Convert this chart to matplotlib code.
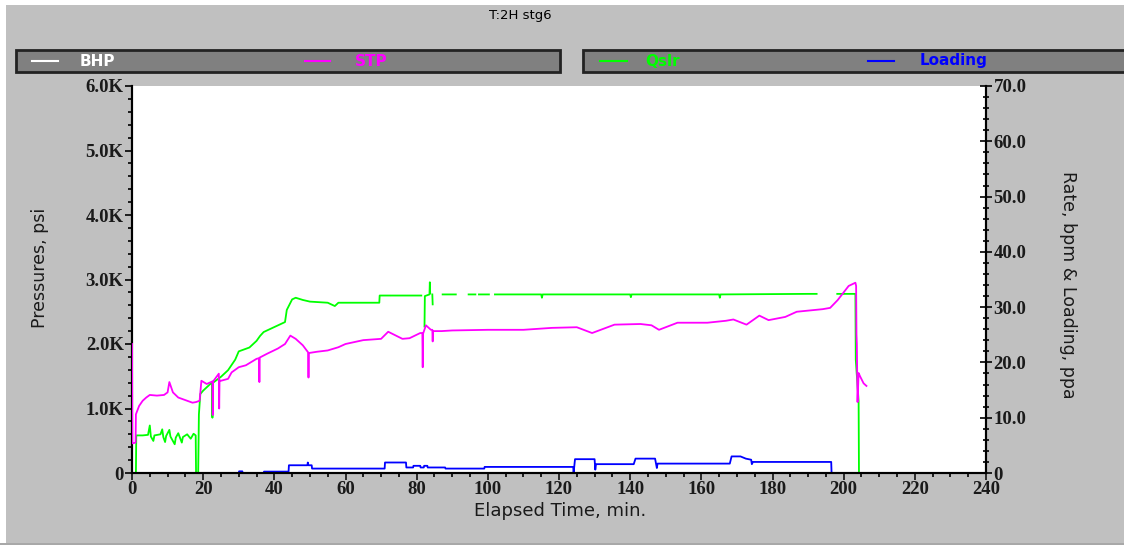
import matplotlib
matplotlib.use('Agg')
import matplotlib.pyplot as plt
from matplotlib.patches import Rectangle
from matplotlib.lines import Line2D
from matplotlib.ticker import MultipleLocator, FuncFormatter
import numpy as np

nan = np.nan

# STP, psi (axe de gauche)
stp_t = [0, 0.1, 1.0, 1.1, 2, 3, 4, 5, 7, 9, 10, 10.5, 11.5, 13, 15, 17, 18, 19, 19.5, 21,
         22.6, 22.7, 22.8, 24.4, 24.5, 24.6, 25, 27, 28, 30, 32, 35, 35.7, 35.8, 35.9, 38, 41, 43,
         44.5, 46, 48, 49.5, 49.6, 49.7, 52, 55, 58, 60, 65, 70, 72, 76, 78, 81, 81.6, 81.7, 81.8,
         82.6, 84, 84.4, 84.5, 84.6, 87, 90, 100, 110, 118, 125, 129.3, 135.6, 142.9, 146, 148.1,
         153.3, 161.7, 166.9, 169, 172.7, 176.3, 178.9, 183.6, 186.8, 194.1, 196.2, 198.3, 201.4,
         203.3, 203.5, 203.6, 203.7, 203.9, 204.2, 204.6, 205.6, 206.4]
stp_psi = [2000, 460, 470, 910, 1040, 1120, 1170, 1210, 1200, 1210, 1250, 1410, 1250, 1170, 1130,
           1090, 1100, 1120, 1430, 1380, 1420, 900, 1420, 1540, 1000, 1440, 1430, 1460, 1560, 1640,
           1670, 1770, 1780, 1410, 1790, 1850, 1930, 2000, 2130, 2080, 1980, 1870, 1480, 1860, 1880,
           1900, 1950, 2000, 2060, 2080, 2190, 2080, 2090, 2170, 2170, 1640, 2160, 2290, 2220, 2220,
           2040, 2200, 2200, 2210, 2220, 2220, 2250, 2260, 2170, 2300, 2310, 2290, 2220, 2330, 2330,
           2360, 2380, 2300, 2440, 2370, 2420, 2500, 2540, 2560, 2680, 2900, 2950, 2900, 2150, 2000,
           1100, 1550, 1500, 1390, 1350]

# Qslr, bpm (axe de droite)
qslr_t = [0, 1.1, 1.2, 3, 4.5, 5, 5.3, 6, 6.3, 8, 8.5, 8.8, 9.3, 9.6, 10.5, 10.8, 12, 12.3, 13, 14,
          14.3, 15.5, 16.5, 17.3, 17.9, 18.0, 18.6, 18.8, 19.2, 20, 21, 22, 22.5, 22.6, 22.7, 25, 27,
          29, 30, 33, 35, 36, 37, 40, 43, 43.5, 45, 46, 48, 50, 55, 57, 58, 65, 69.5, 69.6, 72.5, 72.6,
          73, 81.3, 81.4, 82.2, 82.3, 83.6, 83.7, 83.8, 84.0, 84.4, 84.5, 84.6, 87.3, 91, 91.1, 94.6,
          96.5, 96.6, 97.5, 100.3, 100.4, 102, 115, 115.2, 115.4, 140, 140.2, 140.4, 165, 165.2, 165.4,
          190, 192.4, 192.5, 198.2, 203.3, 203.4, 204.2, 204.3]
qslr_bpm = [0, 0, 6.8, 6.8, 6.9, 8.6, 6.6, 5.8, 6.8, 7.0, 7.9, 6.5, 5.6, 6.7, 7.8, 6.6, 5.2, 6.4, 7.2,
            5.5, 6.5, 7.0, 6.2, 7.1, 6.8, 0, 0, 10.6, 14.3, 14.9, 15.5, 16.1, 16.3, 10.0, 16.3, 17.4,
            18.6, 20.5, 22.0, 22.7, 23.9, 24.8, 25.5, 26.4, 27.3, 29.5, 31.4, 31.7, 31.3, 31.0, 30.8,
            30.2, 30.8, 30.8, 30.8, 32.1, 32.1, nan, 32.1, 32.1, nan, 26.5, 32.0, 32.3, 34.5, 32.5, nan,
            32.3, 30.5, nan, 32.3, 32.3, nan, 32.3, 32.3, nan, 32.3, 32.3, nan, 32.3, 32.3, 31.7, 32.3,
            32.3, 31.8, 32.3, 32.3, 31.7, 32.3, 32.4, 32.4, nan, 32.4, 32.4, 20.5, 13.0, 0]

# Loading, ppa (axe de droite)
load_t = [0, 30, 30.1, 31, 31.1, 37, 37.1, 44, 44.1, 49.3, 49.4, 49.6, 50.5, 50.6, 71, 71.1, 77,
          77.1, 79, 79.1, 81, 81.1, 82, 82.1, 83, 83.1, 88, 88.1, 99, 99.1, 124, 124.1, 124.5, 130,
          130.2, 130.4, 141, 141.5, 147, 147.5, 147.7, 168, 168.5, 171, 172.5, 174, 174.2, 174.5,
          196.5, 196.6, 207]
load_ppa = [0, 0, 0.3, 0.3, 0, 0, 0.25, 0.25, 1.4, 1.4, 1.9, 1.4, 1.4, 0.8, 0.8, 1.9, 1.9, 1.0, 1.0,
            1.3, 1.3, 1.0, 1.0, 1.3, 1.3, 1.0, 1.0, 0.8, 0.8, 1.1, 1.1, 0, 2.5, 2.5, 0.6, 1.6, 1.6,
            2.6, 2.6, 0.9, 1.7, 1.7, 3.0, 3.0, 2.6, 2.4, 1.6, 2.0, 2.0, 0, 0]

# Légende
noms_legende = ['BHP', 'STP', 'Qslr', 'Loading']
couleurs = ['white', '#ff00ff', '#00ff00', '#0000ff']

fond = '#c0c0c0'
fig = plt.figure(figsize=(11.24, 5.45), dpi=100, facecolor=fond)
W, H = 1124.0, 545.0

# Bandes blanches du bord de la capture
fig.patches.append(Rectangle((0, 1 - 5 / H), 1, 5 / H, transform=fig.transFigure,
                             facecolor='white', edgecolor='none', zorder=0))
fig.patches.append(Rectangle((0, 0), 6 / W, 1, transform=fig.transFigure,
                             facecolor='white', edgecolor='none', zorder=0))
fig.patches.append(Rectangle((0, 0), 1, 2 / H, transform=fig.transFigure,
                             facecolor='#a8a8a8', edgecolor='none', zorder=0))

ax = fig.add_axes([132 / W, 1 - 473 / H, (986 - 132) / W, (473 - 86) / H])
ax2 = ax.twinx()

ax.plot(stp_t, stp_psi, color=couleurs[1], lw=1.3, zorder=3)
ax2.plot(qslr_t, qslr_bpm, color=couleurs[2], lw=1.3, zorder=2)
ax2.plot(load_t, load_ppa, color=couleurs[3], lw=1.3, zorder=2)
ax.set_zorder(ax2.get_zorder() + 1)
ax.patch.set_visible(False)
ax2.patch.set_visible(True)
ax2.patch.set_facecolor('white')

ax.set_xlim(0, 240)
ax.set_ylim(0, 6000)
ax2.set_ylim(0, 70)

tick_font = dict(family='Liberation Serif', weight='bold', size=13.5)

def fmt_k(v, pos):
    if v == 0:
        return '0'
    return '%.1fK' % (v / 1000.0)

def fmt_r(v, pos):
    if v == 0:
        return '0'
    return '%.1f' % v

ax.xaxis.set_major_locator(MultipleLocator(20))
ax.xaxis.set_minor_locator(MultipleLocator(5))
ax.yaxis.set_major_locator(MultipleLocator(1000))
ax.yaxis.set_minor_locator(MultipleLocator(200))
ax.yaxis.set_major_formatter(FuncFormatter(fmt_k))
ax2.yaxis.set_major_locator(MultipleLocator(10))
ax2.yaxis.set_minor_locator(MultipleLocator(2))
ax2.yaxis.set_major_formatter(FuncFormatter(fmt_r))

ax.tick_params(axis='x', which='major', direction='out', length=5, width=1.2, pad=1, colors='#111111')
ax.tick_params(axis='x', which='minor', direction='out', length=3, width=1.2)
ax.tick_params(axis='y', which='major', direction='out', length=5, width=1.2, pad=1)
ax.tick_params(axis='y', which='minor', direction='out', length=3, width=1.2)
ax2.tick_params(axis='y', which='major', direction='inout', length=9, width=1.2, pad=1)
ax2.tick_params(axis='y', which='minor', direction='inout', length=5, width=1.2)

for lab in ax.get_xticklabels() + ax.get_yticklabels() + ax2.get_yticklabels():
    lab.set_fontproperties(tick_font)
    lab.set_color('#1a1a1a')

for a in (ax, ax2):
    a.spines['top'].set_visible(False)
    for s in ('left', 'right', 'bottom'):
        a.spines[s].set_linewidth(1.5)
        a.spines[s].set_color('black')

# Titres des axes
fig.text(560 / W, 1 - 511 / H, 'Elapsed Time, min.', ha='center', va='center',
         fontsize=13, family='DejaVu Sans', color='#1a1a1a')
fig.text(40 / W, 1 - 268 / H, 'Pressures, psi', ha='center', va='center', rotation=90,
         fontsize=12.5, family='DejaVu Sans', color='#1a1a1a')
fig.text(1068 / W, 1 - 285 / H, 'Rate, bpm & Loading, ppa', ha='center', va='center',
         rotation=270, fontsize=12.5, family='DejaVu Sans', color='#1a1a1a')

# Titre du graphique
fig.text(520 / W, 1 - 15 / H, 'T:2H stg6', ha='center', va='center', fontsize=9.5,
         family='DejaVu Sans', color='black')

# Boîtes de légende
for x0, x1 in ((16, 560), (583, 1130)):
    fig.patches.append(Rectangle((x0 / W, 1 - 72 / H), (x1 - x0) / W, 22 / H,
                                 transform=fig.transFigure, facecolor='#808080',
                                 edgecolor='#222222', lw=2, zorder=1))

lignes_x = [(32, 58), (305, 330), (600, 627), (868, 894)]
textes_x = [80, 355, 645, 920]
for (a, b), tx, nom, c in zip(lignes_x, textes_x, noms_legende, couleurs):
    fig.lines.append(Line2D([a / W, b / W], [1 - 61 / H, 1 - 61 / H], transform=fig.transFigure,
                            color=c, lw=1.5, zorder=2))
    fig.text(tx / W, 1 - 61 / H, nom, ha='left', va='center', fontsize=11, weight='bold',
             family='DejaVu Sans', color=c)

fig.savefig('out.png', dpi=100, facecolor=fond)
